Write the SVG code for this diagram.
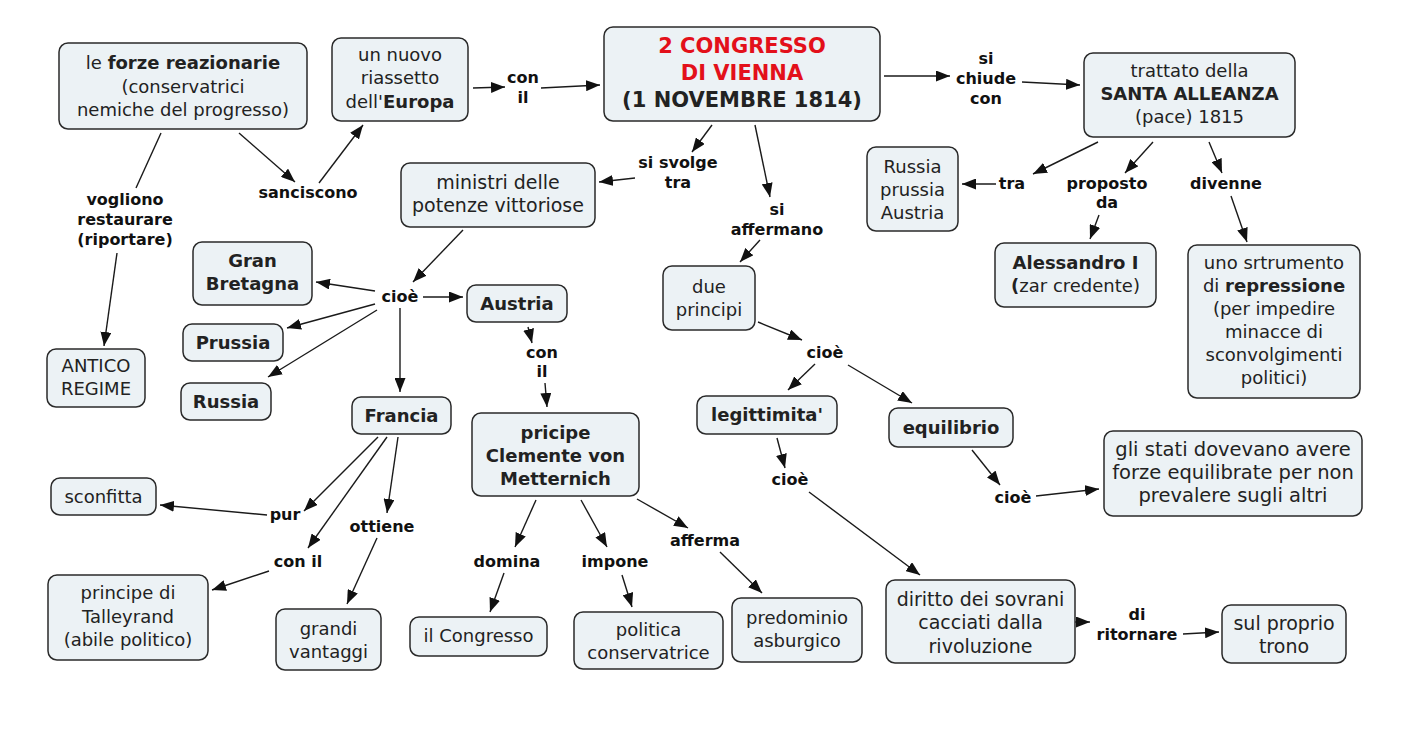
<svg xmlns="http://www.w3.org/2000/svg" width="1418" height="733" viewBox="0 0 1418 733">
<defs>
<style>
.n rect{fill:#ecf2f5;stroke:#2a2a2a;stroke-width:1.5}
.n text{font-family:"DejaVu Sans",Verdana,sans-serif;font-size:18px;fill:#222;text-anchor:middle}
.n .b,.b{font-weight:bold}
.lb text{font-family:"DejaVu Sans",Verdana,sans-serif;font-size:16px;font-weight:bold;fill:#111;text-anchor:middle}
.c line{stroke:#1a1a1a;stroke-width:1.4;marker-end:url(#a)}
.c line.na{marker-end:none}
.n text.red{fill:#e3101a}
</style>
<marker id="a" viewBox="0 0 14 11" refX="14" refY="5.5" markerWidth="14" markerHeight="11" markerUnits="userSpaceOnUse" orient="auto"><path d="M0,0 L14,5.5 L0,11 z" fill="#111"/></marker>
</defs>
<rect width="1418" height="733" fill="#fff"/>

<g class="c" id="connectors">
<line x1="239" y1="133" x2="295" y2="182"/>
<line x1="319" y1="183" x2="363" y2="125"/>
<line class="na" x1="161" y1="133" x2="136" y2="188"/>
<line x1="117" y1="253" x2="104" y2="346"/>
<line x1="473" y1="88" x2="505" y2="87"/>
<line x1="541" y1="88" x2="600" y2="85"/>
<line x1="884" y1="76" x2="950" y2="76"/>
<line x1="1022" y1="82" x2="1080" y2="85"/>
<line x1="712" y1="125" x2="692" y2="152"/>
<line x1="635" y1="178" x2="599" y2="182"/>
<line x1="755" y1="125" x2="770" y2="197"/>
<line x1="760" y1="240" x2="740" y2="262"/>
<line x1="463" y1="230" x2="413" y2="282"/>
<line x1="375" y1="291" x2="316" y2="282"/>
<line x1="423" y1="297" x2="463" y2="297"/>
<line x1="375" y1="304" x2="287" y2="328"/>
<line x1="377" y1="310" x2="268" y2="377"/>
<line x1="400" y1="308" x2="400" y2="392"/>
<line x1="528" y1="327" x2="532" y2="343"/>
<line x1="545" y1="383" x2="547" y2="407"/>
<line x1="1098" y1="142" x2="1033" y2="174"/>
<line x1="996" y1="184" x2="962" y2="184"/>
<line x1="1153" y1="142" x2="1125" y2="173"/>
<line x1="1099" y1="215" x2="1090" y2="239"/>
<line x1="1209" y1="142" x2="1222" y2="173"/>
<line x1="1231" y1="196" x2="1247" y2="242"/>
<line x1="758" y1="322" x2="802" y2="340"/>
<line x1="815" y1="364" x2="788" y2="390"/>
<line x1="848" y1="365" x2="912" y2="403"/>
<line x1="777" y1="438" x2="785" y2="468"/>
<line x1="809" y1="492" x2="920" y2="575"/>
<line x1="972" y1="450" x2="1000" y2="485"/>
<line x1="1036" y1="496" x2="1099" y2="489"/>
<line x1="1075" y1="622" x2="1090" y2="622"/>
<line x1="1183" y1="634" x2="1219" y2="632"/>
<line x1="378" y1="437" x2="304" y2="511"/>
<line x1="267" y1="515" x2="160" y2="505"/>
<line x1="387" y1="437" x2="308" y2="548"/>
<line x1="269" y1="571" x2="212" y2="590"/>
<line x1="398" y1="437" x2="387" y2="513"/>
<line x1="377" y1="538" x2="347" y2="604"/>
<line x1="536" y1="500" x2="515" y2="547"/>
<line x1="504" y1="573" x2="490" y2="612"/>
<line x1="581" y1="500" x2="607" y2="547"/>
<line x1="622" y1="575" x2="632" y2="607"/>
<line x1="637" y1="499" x2="688" y2="528"/>
<line x1="720" y1="552" x2="762" y2="593"/>
</g>

<g class="lb" id="labels">
<text x="523" y="83">con</text><text x="523" y="103">il</text>
<text x="986" y="64">si</text><text x="986" y="84">chiude</text><text x="986" y="104">con</text>
<text x="308" y="198">sanciscono</text>
<text x="125" y="205">vogliono</text><text x="125" y="225">restaurare</text><text x="125" y="245">(riportare)</text>
<text x="678" y="168">si svolge</text><text x="678" y="188">tra</text>
<text x="777" y="215">si</text><text x="777" y="235">affermano</text>
<text x="400" y="302">cioè</text>
<text x="542" y="358">con</text><text x="542" y="377">il</text>
<text x="1012" y="189">tra</text>
<text x="1107" y="189">proposto</text><text x="1107" y="208">da</text>
<text x="1226" y="189">divenne</text>
<text x="825" y="358">cioè</text>
<text x="790" y="485">cioè</text>
<text x="1013" y="503">cioè</text>
<text x="285" y="520">pur</text>
<text x="298" y="567">con il</text>
<text x="382" y="532">ottiene</text>
<text x="507" y="567">domina</text>
<text x="615" y="567">impone</text>
<text x="705" y="546">afferma</text>
<text x="1137" y="620">di</text><text x="1137" y="640">ritornare</text>
</g>

<g class="n" id="n-forze"><rect x="59" y="43" width="248" height="86" rx="9"/>
<text x="183" y="69">le <tspan class="b">forze reazionarie</tspan></text><text x="183" y="93">(conservatrici</text><text x="183" y="116">nemiche del progresso)</text></g>
<g class="n" id="n-riassetto"><rect x="332" y="38" width="136" height="83" rx="9"/>
<text x="400" y="61">un nuovo</text><text x="400" y="84">riassetto</text><text x="400" y="108">dell'<tspan class="b">Europa</tspan></text></g>
<g class="n" id="n-congresso"><rect x="604" y="27" width="276" height="94" rx="9"/>
<text x="742" y="53" class="b red" style="font-size:21px">2 CONGRESSO</text><text x="742" y="80" class="b red" style="font-size:21px">DI VIENNA</text><text x="742" y="107" class="b" style="font-size:21px">(1 NOVEMBRE 1814)</text></g>
<g class="n" id="n-trattato"><rect x="1084" y="53" width="211" height="84" rx="9"/>
<text x="1189.5" y="77">trattato della</text><text x="1189.5" y="100" class="b">SANTA ALLEANZA</text><text x="1189.5" y="123">(pace) 1815</text></g>
<g class="n" id="n-rpa"><rect x="867" y="147" width="91" height="84" rx="9"/>
<text x="912.5" y="173">Russia</text><text x="912.5" y="196">prussia</text><text x="912.5" y="219">Austria</text></g>
<g class="n" id="n-alessandro"><rect x="995" y="243" width="161" height="64" rx="9"/>
<text x="1075.5" y="269" class="b">Alessandro I</text><text x="1075.5" y="292"><tspan class="b">(</tspan>zar credente)</text></g>
<g class="n" id="n-strumento"><rect x="1188" y="245" width="172" height="153" rx="9"/>
<text x="1274" y="269">uno srtrumento</text><text x="1274" y="292">di <tspan class="b">repressione</tspan></text><text x="1274" y="315">(per impedire</text><text x="1274" y="338">minacce di</text><text x="1274" y="361">sconvolgimenti</text><text x="1274" y="384">politici)</text></g>
<g class="n" id="n-ministri"><rect x="401" y="163" width="194" height="64" rx="9"/>
<text x="498" y="189" style="font-size:19px">ministri delle</text><text x="498" y="212" style="font-size:19px">potenze vittoriose</text></g>
<g class="n" id="n-gb"><rect x="193" y="242" width="119" height="63" rx="9"/>
<text x="252.5" y="267" class="b">Gran</text><text x="252.5" y="290" class="b">Bretagna</text></g>
<g class="n" id="n-austria"><rect x="467" y="285" width="100" height="37" rx="9"/>
<text x="517" y="310" class="b">Austria</text></g>
<g class="n" id="n-prussia"><rect x="183" y="324" width="100" height="37" rx="9"/>
<text x="233" y="349" class="b">Prussia</text></g>
<g class="n" id="n-russia"><rect x="181" y="383" width="90" height="37" rx="9"/>
<text x="226" y="408" class="b">Russia</text></g>
<g class="n" id="n-antico"><rect x="47" y="349" width="98" height="58" rx="9"/>
<text x="96" y="372">ANTICO</text><text x="96" y="395">REGIME</text></g>
<g class="n" id="n-francia"><rect x="352" y="397" width="99" height="37" rx="9"/>
<text x="401.5" y="422" class="b">Francia</text></g>
<g class="n" id="n-metternich"><rect x="472" y="413" width="167" height="83" rx="9"/>
<text x="555.5" y="439" class="b">pricipe</text><text x="555.5" y="462" class="b">Clemente von</text><text x="555.5" y="485" class="b">Metternich</text></g>
<g class="n" id="n-principi"><rect x="663" y="266" width="92" height="64" rx="9"/>
<text x="709" y="293">due</text><text x="709" y="316">principi</text></g>
<g class="n" id="n-legittimita"><rect x="697" y="396" width="140" height="38" rx="9"/>
<text x="767" y="421" class="b">legittimita'</text></g>
<g class="n" id="n-equilibrio"><rect x="889" y="408" width="124" height="39" rx="9"/>
<text x="951" y="434" class="b">equilibrio</text></g>
<g class="n" id="n-stati"><rect x="1104" y="431" width="258" height="85" rx="9"/>
<text x="1233" y="456" style="font-size:19.5px">gli stati dovevano avere</text><text x="1233" y="479" style="font-size:19.5px">forze equilibrate per non</text><text x="1233" y="502" style="font-size:19.5px">prevalere sugli altri</text></g>
<g class="n" id="n-sconfitta"><rect x="51" y="478" width="105" height="37" rx="9"/>
<text x="103.5" y="503">sconfitta</text></g>
<g class="n" id="n-talleyrand"><rect x="48" y="575" width="160" height="85" rx="9"/>
<text x="128" y="599">principe di</text><text x="128" y="623">Talleyrand</text><text x="128" y="646">(abile politico)</text></g>
<g class="n" id="n-vantaggi"><rect x="276" y="609" width="105" height="61" rx="9"/>
<text x="328.5" y="635">grandi</text><text x="328.5" y="658">vantaggi</text></g>
<g class="n" id="n-ilcongresso"><rect x="410" y="617" width="137" height="39" rx="9"/>
<text x="478.5" y="642">il Congresso</text></g>
<g class="n" id="n-politica"><rect x="574" y="612" width="149" height="57" rx="9"/>
<text x="648.5" y="636">politica</text><text x="648.5" y="659">conservatrice</text></g>
<g class="n" id="n-predominio"><rect x="732" y="598" width="130" height="64" rx="9"/>
<text x="797" y="624">predominio</text><text x="797" y="647">asburgico</text></g>
<g class="n" id="n-diritto"><rect x="886" y="580" width="189" height="83" rx="9"/>
<text x="980.5" y="606" style="font-size:19px">diritto dei sovrani</text><text x="980.5" y="629" style="font-size:19px">cacciati dalla</text><text x="980.5" y="653" style="font-size:19px">rivoluzione</text></g>
<g class="n" id="n-trono"><rect x="1222" y="605" width="124" height="58" rx="9"/>
<text x="1284" y="630" style="font-size:19px">sul proprio</text><text x="1284" y="653" style="font-size:19px">trono</text></g>
</svg>
